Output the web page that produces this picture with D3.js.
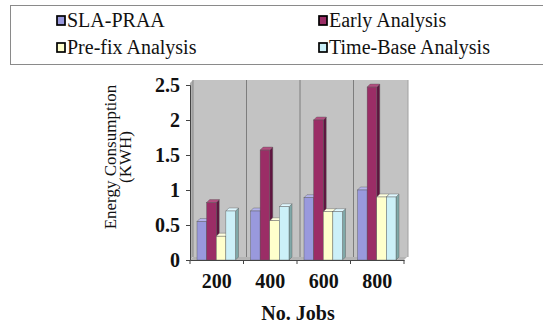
<!DOCTYPE html>
<html>
<head>
<meta charset="utf-8">
<script src="https://cdn.jsdelivr.net/npm/d3@7"></script>
<style>
  html, body { margin: 0; padding: 0; background: #fff; }
  svg text { font-family: "Liberation Serif", "Times New Roman", Times, "DejaVu Serif", serif; }
</style>
</head>
<body>
<svg id="chart" width="543" height="326"></svg>
<script>
// Energy consumption per number of jobs, four analysis methods
const jobs = ["200", "400", "600", "800"];
const seriesNames = ["SLA-PRAA", "Early Analysis", "Pre-fix Analysis", "Time-Base Analysis"];
const slaPraa  = [0.55, 0.70, 0.89, 1.00];
const early    = [0.82, 1.57, 2.00, 2.47];
const prefix   = [0.34, 0.56, 0.69, 0.90];
const timeBase = [0.70, 0.76, 0.69, 0.90];
const yTicks = [0, 0.5, 1, 1.5, 2, 2.5];
const yTickLabels = ["0", "0.5", "1", "1.5", "2", "2.5"];

const seriesValues = [slaPraa, early, prefix, timeBase];
const fills  = ["#9999dd", "#9b2d66", "#ffffcc", "#ccf0f8"];
const sides  = ["#6a6aa8", "#601440", "#c8c89a", "#7fa8a8"];
const tops   = ["#b4b4ea", "#b34d80", "#ffffe0", "#e0f8ff"];
const serif = "'Liberation Serif', 'Times New Roman', Times, 'DejaVu Serif', serif";

const svg = d3.select("#chart");

// Legend box
svg.append("rect").attr("x", 10.5).attr("y", 5.5).attr("width", 540).attr("height", 59)
  .attr("fill", "#fff").attr("stroke", "#8a8a8a").attr("stroke-width", 1);
const legendPos = [[56, 27], [318, 27], [56, 54], [318, 54]];
seriesNames.forEach((name, i) => {
  const [lx, ly] = legendPos[i];
  svg.append("rect").attr("x", lx + 1).attr("y", ly - 11).attr("width", 8).attr("height", 9)
    .attr("fill", fills[i]).attr("stroke", "#000").attr("stroke-width", 1.7);
  svg.append("text").attr("x", lx + 11).attr("y", ly).attr("font-size", 20).attr("fill", "#111")
    .attr("font-family", serif).text(name);
});

// Plot geometry
const x0 = 190, x1 = 404, yBase = 260, yTop = 85;
const dx = 3, dy = 3; // depth offset of the 3D frame

const x = d3.scaleBand().domain(jobs).range([x0, x1]).paddingInner(0).paddingOuter(0);
const xInner = d3.scaleBand().domain(seriesNames).range([7, 45.5]).padding(0);
const y = d3.scaleLinear().domain([0, 2.5]).range([yBase, yTop]);

// Back wall
svg.append("rect").attr("x", x0 + dx).attr("y", 80).attr("width", x1 - x0 + 1).attr("height", yBase - dy - 80)
  .attr("fill", "#c3c3c3");
// Left side wall
svg.append("path").attr("d", `M${x0},${83}L${x0 + dx},80L${x0 + dx},${yBase - dy}L${x0},${yBase}Z`)
  .attr("fill", "#b0b0b0");
// Floor
svg.append("path").attr("d", `M${x0},${yBase}L${x0 + dx},${yBase - dy}L${x1 + dx},${yBase - dy}L${x1},${yBase}Z`)
  .attr("fill", "#b4b4b4");

// Category dividers on the back wall
jobs.forEach((j, i) => {
  if (i === 0) return;
  const gx = x(j) + dx;
  svg.append("line").attr("x1", gx).attr("x2", gx).attr("y1", 80).attr("y2", yBase - dy)
    .attr("stroke", "#7d7d7d").attr("stroke-width", 1);
});
svg.append("line").attr("x1", x0 + dx).attr("x2", x0 + dx).attr("y1", 80).attr("y2", yBase - dy)
  .attr("stroke", "#8a8a8a");
svg.append("line").attr("x1", x1 + dx + 1).attr("x2", x1 + dx + 1).attr("y1", 80).attr("y2", yBase - dy)
  .attr("stroke", "#a0a0a0");

// Bars (front, side and top faces)
const bw = xInner.bandwidth();
const bd = 3; // bar depth
jobs.forEach((j, ci) => {
  seriesValues.forEach((vals, si) => {
    const v = vals[ci];
    const bx = x(j) + xInner(seriesNames[si]);
    const by = y(v);
    const g = svg.append("g");
    g.append("path")
      .attr("d", `M${bx + bw},${by}L${bx + bw + bd},${by - bd}L${bx + bw + bd},${yBase - bd}L${bx + bw},${yBase}Z`)
      .attr("fill", sides[si]).attr("stroke", "#555").attr("stroke-width", 0.4);
    g.append("path")
      .attr("d", `M${bx},${by}L${bx + bd},${by - bd}L${bx + bw + bd},${by - bd}L${bx + bw},${by}Z`)
      .attr("fill", tops[si]).attr("stroke", "#555").attr("stroke-width", 0.4);
    g.append("rect").attr("x", bx).attr("y", by).attr("width", bw).attr("height", yBase - by)
      .attr("fill", fills[si]).attr("stroke", "#555").attr("stroke-width", 0.4);
  });
});

// Y axis
const yAxis = d3.axisLeft(y).tickValues(yTicks).tickFormat((d, i) => yTickLabels[i]).tickSize(4).tickPadding(6);
const gy = svg.append("g").attr("transform", `translate(${x0},0)`).call(yAxis)
  .attr("font-family", serif);
gy.select(".domain").attr("stroke", "#444");
gy.selectAll(".tick line").attr("stroke", "#444");
gy.selectAll(".tick text").attr("font-family", serif).attr("font-size", 20)
  .attr("font-weight", "bold").attr("fill", "#111");

// X axis
const xAxis = d3.axisBottom(x).tickSize(0).tickPadding(14);
const gx = svg.append("g").attr("transform", `translate(0,${yBase})`).call(xAxis)
  .attr("font-family", serif);
gx.select(".domain").attr("stroke", "#444");
gx.selectAll(".tick text").attr("font-family", serif).attr("font-size", 20)
  .attr("font-weight", "bold").attr("fill", "#111");
// Category boundary ticks
const bounds = jobs.map(j => x(j)).concat([x1]);
gx.selectAll(".bound").data(bounds).join("line").attr("class", "bound")
  .attr("x1", d => d).attr("x2", d => d).attr("y1", 0).attr("y2", 4).attr("stroke", "#444");

// Axis titles
svg.append("text").attr("x", 298).attr("y", 320).attr("text-anchor", "middle").attr("font-family", serif)
  .attr("font-size", 20).attr("font-weight", "bold").attr("fill", "#111").text("No. Jobs");
svg.append("text").attr("transform", "translate(116,157) rotate(-90)").attr("text-anchor", "middle")
  .attr("font-family", serif).attr("font-size", 17).attr("fill", "#111").text("Energy Consumption");
svg.append("text").attr("transform", "translate(131,157) rotate(-90)").attr("text-anchor", "middle")
  .attr("font-family", serif).attr("font-size", 17).attr("fill", "#111").text("(KWH)");
</script>
</body>
</html>
